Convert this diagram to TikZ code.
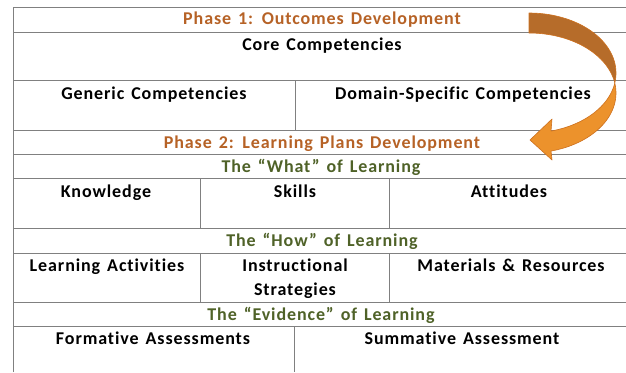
\documentclass[tikz,border=0pt]{standalone}
\usepackage{fontspec}
\setmainfont{Carlito}[Ligatures=NoCommon, LetterSpace=5, WordSpace=1.4]
\definecolor{gridgray}{RGB}{128,128,128}
\definecolor{phasebrown}{RGB}{182,98,38}
\definecolor{partgreen}{RGB}{79,98,40}
\definecolor{bendback}{RGB}{182,108,42}
\definecolor{bendfront}{RGB}{236,146,44}
\definecolor{bendedge}{RGB}{205,112,30}
\tikzset{
    cell/.style={anchor=base, inner sep=0pt, font=\fontsize{18}{24}\selectfont\bfseries},
    phase/.style={cell, text=phasebrown},
    part/.style={cell, text=partgreen},
    rule/.style={draw=gridgray, line width=1pt},
    curvearrow/.style={draw=bendedge, line width=0.6pt, line join=round},
}

\begin{document}
\begin{tikzpicture}[x=1pt, y=-1pt]
    \useasboundingbox (0,0) rectangle (626,372);

    \draw[rule] (13,372) -- (13,7) -- (627,7);
    \foreach \y in {32,80,130,154,178,228,253,302,326}
        \draw[rule] (13,\y) -- (627,\y);
    \draw[rule] (295,80) -- (295,130);
    \foreach \x in {200,389} {
        \draw[rule] (\x,178) -- (\x,228);
        \draw[rule] (\x,253) -- (\x,302);
    }
    \draw[rule] (294,326) -- (294,372);

    \node[phase] (phaseone) at (322,24) {Phase 1: Outcomes Development};
    \node[cell] (core) at (322,50) {Core Competencies};
    \node[cell] (generic) at (154,99) {Generic Competencies};
    \node[cell] (domain) at (463,99) {Domain-Specific Competencies};
    \node[phase] (phasetwo) at (322,148) {Phase 2: Learning Plans Development};
    \node[part] (what) at (321,172) {The “What” of Learning};
    \node[cell] (knowledge) at (106,197) {Knowledge};
    \node[cell] (skills) at (295,197) {Skills};
    \node[cell] (attitudes) at (509,197) {Attitudes};
    \node[part] (how) at (322,246) {The “How” of Learning};
    \node[cell] (activities) at (107,271) {Learning Activities};
    \node[cell, align=center] (strategies) at (295,295) {Instructional\\Strategies};
    \node[cell] (materials) at (511,271) {Materials \& Resources};
    \node[part] (evidence) at (321,320) {The “Evidence” of Learning};
    \node[cell] (formative) at (153,344) {Formative Assessments};
    \node[cell] (summative) at (462,344) {Summative Assessment};

    \filldraw[curvearrow, fill=bendback]
        plot[domain=-90:9.59, samples=40] ({529+87*cos(\x)}, {73+60*sin(\x)})
        -- plot[domain=-9.59:-90, samples=40] ({529+87*cos(\x)}, {93+60*sin(\x)})
        -- cycle;
    \filldraw[curvearrow, fill=bendfront]
        plot[domain=-9.59:75.35, samples=40] ({529+87*cos(\x)}, {93+60*sin(\x)})
        -- (552,160) -- (530,140) -- (552,119)
        -- plot[domain=75.35:9.59, samples=40] ({529+87*cos(\x)}, {73+60*sin(\x)})
        -- cycle;
\end{tikzpicture}
\end{document}
